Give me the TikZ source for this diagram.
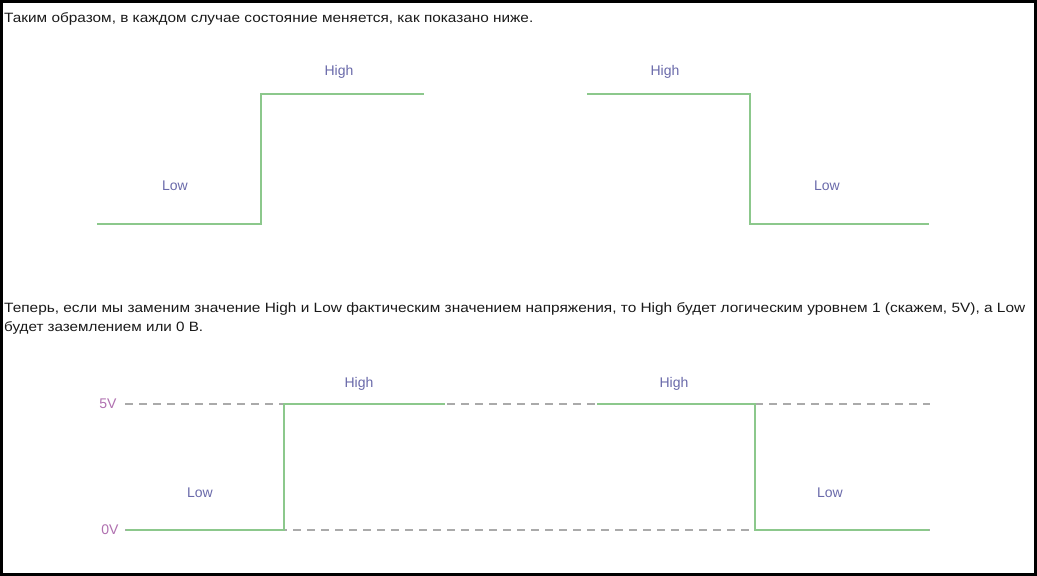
\documentclass[tikz,border=0pt]{standalone}
\usepackage{fontspec}
\setmainfont{Liberation Sans}
\usepackage{graphicx}
\definecolor{sig}{HTML}{8CC88C}
\definecolor{lbl}{HTML}{6A6AAA}
\definecolor{volt}{HTML}{B070B0}
\definecolor{dash}{HTML}{AAAAAA}
\definecolor{para}{HTML}{1A1A1A}
\begin{document}
\begin{tikzpicture}[x=1pt,y=-1pt,
  signal/.style={draw=sig,line width=2pt,line join=miter},
  level/.style={draw=dash,line width=1.6pt,dash pattern=on 8pt off 6pt},
  lab/.style={text=lbl,font=\fontsize{14}{16}\selectfont,inner sep=0pt},
  vlab/.style={text=volt,font=\fontsize{14}{16}\selectfont,inner sep=0pt},
  ptext/.style={text=para,font=\fontsize{13.5}{16}\selectfont,inner sep=0pt,anchor=west}]
\path[fill=white] (0,0) rectangle (1037,576);
\useasboundingbox (0,0) rectangle (1037,576);
\draw[line width=3pt] (1.5,1.5) rectangle (1035.5,574.5);

% paragraph texts
\node[ptext] (t1) at (4,19) {\resizebox{529pt}{\height}{Таким образом, в каждом случае состояние меняется, как показано ниже.}};
\node[ptext] (t2) at (4,309) {\resizebox{1021pt}{\height}{Теперь, если мы заменим значение High и Low фактическим значением напряжения, то High будет логическим уровнем 1 (скажем, 5V), а Low}};
\node[ptext] (t3) at (4,328) {\resizebox{199pt}{\height}{будет заземлением или 0 В.}};

% top left: rising
\coordinate (a1) at (97,224);
\coordinate (a2) at (261,224);
\coordinate (a3) at (261,94);
\coordinate (a4) at (424,94);
\draw[signal] (a1) -- (a2) -- (a3) -- (a4);
\node[lab] (h1) at (339,72) {High};
\node[lab] (l1) at (175,186) {Low};

% top right: falling
\coordinate (b1) at (587,94);
\coordinate (b2) at (750,94);
\coordinate (b3) at (750,224);
\coordinate (b4) at (929,224);
\draw[signal] (b1) -- (b2) -- (b3) -- (b4);
\node[lab] (h2) at (665,72) {High};
\node[lab] (l2) at (827,186) {Low};

% bottom: voltage levels
\node[vlab] (v5) at (108,404) {5V};
\node[vlab] (v0) at (110,530) {0V};
\coordinate (d1) at (125,404);
\coordinate (d2) at (930,404);
\coordinate (d3) at (125,530);
\coordinate (d4) at (930,530);
\draw[level] (d1) -- (d2);
\draw[level] (d3) -- (d4);

\coordinate (c1) at (126,530);
\coordinate (c2) at (284,530);
\coordinate (c3) at (284,404);
\coordinate (c4) at (445,404);
\draw[signal] (c1) -- (c2) -- (c3) -- (c4);
\coordinate (e1) at (597,404);
\coordinate (e2) at (755,404);
\coordinate (e3) at (755,530);
\coordinate (e4) at (929,530);
\draw[signal] (e1) -- (e2) -- (e3) -- (e4);

\node[lab] (h3) at (359,384) {High};
\node[lab] (h4) at (674,384) {High};
\node[lab] (l3) at (200,493) {Low};
\node[lab] (l4) at (830,493) {Low};
\end{tikzpicture}
\end{document}
